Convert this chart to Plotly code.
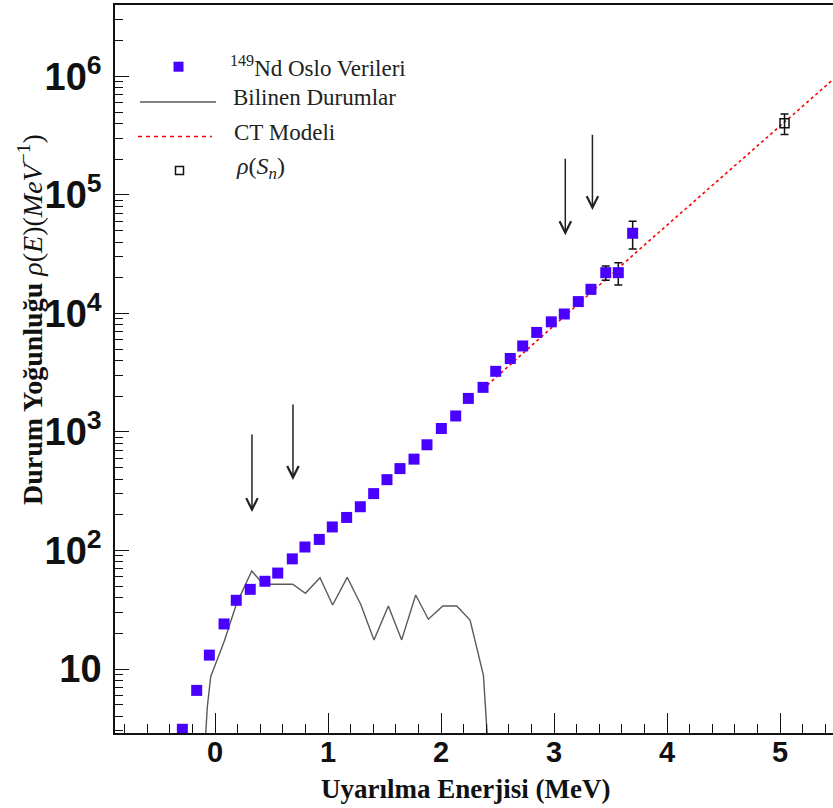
import numpy as np
import plotly.graph_objects as go

# ---------------- data ----------------
oslo_E = [-0.289, -0.162, -0.050, 0.080, 0.188, 0.312, 0.442, 0.555, 0.684, 0.796,
          0.923, 1.038, 1.165, 1.286, 1.404, 1.522, 1.637, 1.761, 1.876, 2.003,
          2.130, 2.242, 2.372, 2.484, 2.613, 2.723, 2.847, 2.976, 3.091, 3.215,
          3.327, 3.458, 3.569, 3.696]
oslo_rho = [3.1, 6.6, 13.1, 24, 38, 47, 55, 64.5, 85, 107,
            124, 158, 190, 234, 302, 396, 491, 590, 780, 1070,
            1365, 1920, 2380, 3250, 4170, 5320, 6920, 8500, 9900, 12600,
            16000, 22100, 22100, 47500]
oslo_err = [0, 0, 0, 0, 0, 0, 0, 0, 0, 0,
            0, 0, 0, 0, 0, 0, 0, 0, 0, 0,
            0, 0, 0, 0, 0, 0, 0, 400, 800, 1000,
            1300, 3000, 4700, 12500]

known_E = [-0.16, -0.068, -0.038, 0.080, 0.192, 0.325, 0.428, 0.555, 0.687, 0.800,
           0.929, 1.041, 1.170, 1.289, 1.407, 1.534, 1.652, 1.776, 1.888, 2.016,
           2.139, 2.257, 2.375, 2.480]
known_rho = [0.16, 4.8, 8.6, 17.0, 35.8, 67.1, 51.9, 51.9, 51.9, 43.5,
             58.9, 34.7, 59.4, 35.2, 17.6, 34.0, 17.6, 42.1, 26.3, 34.0,
             34.0, 25.9, 8.9, 0.25]

ct_E = [2.37, 3.76, 5.50]
ct_rho = [2300, 35000, 1.0e6]

sn_E = [5.04]
sn_rho = [4.03e5]
sn_err = [8.0e4]

arrow_E = [0.327, 0.690, 3.100, 3.340]
arrow_tip = [211, 394, 45700, 74600]
arrow_tail = [980, 1760, 208000, 331000]

x_tickvals = [0, 1, 2, 3, 4, 5]
x_ticktext = ["0", "1", "2", "3", "4", "5"]
y_tickvals = [10, 100, 1e3, 1e4, 1e5, 1e6]
y_ticktext = ["10", "10<sup>2</sup>", "10<sup>3</sup>", "10<sup>4</sup>",
              "10<sup>5</sup>", "10<sup>6</sup>"]

legend_labels = ["<sup>149</sup>Nd Oslo Verileri", "Bilinen Durumlar", "CT Modeli",
                 "<i>ρ</i>(<i>S<sub>n</sub></i>)"]

# ---------------- layout geometry ----------------
W, H = 833, 808
ML, MR, MT, MB = 115, 0, 5, 75
PW, PH = W - ML - MR, H - MT - MB


def px(x):
    return (x - ML) / PW


def py(y):
    return (H - MB - y) / PH


BLUE = "#4A00FF"
GRAY = "#5a5a5a"
RED = "#FF0000"
SERIF = "Liberation Serif"
SANS = "Liberation Sans"

fig = go.Figure()

fig.add_trace(go.Scatter(x=known_E, y=known_rho, mode="lines",
                         line=dict(color=GRAY, width=1.4), showlegend=False))
fig.add_trace(go.Scatter(x=ct_E, y=ct_rho, mode="lines",
                         line=dict(color=RED, width=1.6, dash="3px,3px"),
                         showlegend=False))
fig.add_trace(go.Scatter(x=oslo_E, y=oslo_rho, mode="markers",
                         marker=dict(symbol="square", size=11, color=BLUE),
                         error_y=dict(type="data", array=oslo_err, visible=True,
                                      color="#111", thickness=1.5, width=4),
                         showlegend=False))
fig.add_trace(go.Scatter(x=sn_E, y=sn_rho, mode="markers",
                         marker=dict(symbol="square-open", size=9, color="#111",
                                     line=dict(width=1.5)),
                         error_y=dict(type="data", array=sn_err, visible=True,
                                      color="#111", thickness=1.5, width=4),
                         showlegend=False))

annotations = []
for e, tip, tail in zip(arrow_E, arrow_tip, arrow_tail):
    annotations.append(dict(x=e, y=np.log10(tip), ax=e, ay=np.log10(tail),
                            xref="x", yref="y", axref="x", ayref="y",
                            text="", showarrow=True, arrowhead=5, arrowsize=1.5,
                            arrowwidth=1.5, arrowcolor="#222"))

# axis titles
annotations.append(dict(x=px(30), y=py(320), xref="paper", yref="paper",
                        text="<b>Durum Yoğunluğu</b> <i>ρ</i>(<i>E</i>)(<i>MeV</i><sup>−1</sup>)",
                        textangle=-90, showarrow=False, xanchor="center", yanchor="middle",
                        font=dict(family=SERIF, size=28, color="#111")))
annotations.append(dict(x=px(465), y=py(789), xref="paper", yref="paper",
                        text="<b>Uyarılma Enerjisi (MeV)</b>", showarrow=False,
                        xanchor="center", yanchor="middle",
                        font=dict(family=SERIF, size=27, color="#111")))

# legend (drawn manually to match the reference geometry)
leg_pos = [(228, 66), (231, 97), (232, 132), (234, 168)]
leg_sizes = [23, 23, 23, 24]
for lab, (lx, ly), fs in zip(legend_labels, leg_pos, leg_sizes):
    annotations.append(dict(x=px(lx), y=py(ly), xref="paper", yref="paper",
                            text=lab, showarrow=False, xanchor="left", yanchor="middle",
                            font=dict(family=SERIF, size=fs, color="#222")))

shapes = [
    dict(type="rect", xref="paper", yref="paper", x0=px(173.5), x1=px(183.5),
         y0=py(71.7), y1=py(61.7), fillcolor=BLUE, line=dict(width=0)),
    dict(type="line", xref="paper", yref="paper", x0=px(140), x1=px(216),
         y0=py(102), y1=py(102), line=dict(color=GRAY, width=1.4)),
    dict(type="line", xref="paper", yref="paper", x0=px(138), x1=px(212),
         y0=py(136.5), y1=py(136.5), line=dict(color=RED, width=1.6, dash="4px,4px")),
    dict(type="rect", xref="paper", yref="paper", x0=px(175.5), x1=px(183.5),
         y0=py(174.5), y1=py(166.5), fillcolor="rgba(0,0,0,0)",
         line=dict(color="#111", width=1.5)),
]

minor_y = [m * 10 ** d for d in range(0, 7) for m in range(2, 10)]

fig.update_layout(
    width=W, height=H,
    margin=dict(l=ML, r=MR, t=MT, b=MB),
    paper_bgcolor="white", plot_bgcolor="white",
    showlegend=False,
    annotations=annotations,
    shapes=shapes,
    xaxis=dict(range=[-0.885, 5.469], showline=True, linecolor="#111", linewidth=1.5,
               mirror=True, showgrid=False, zeroline=False,
               ticks="inside", ticklen=20, tickwidth=1.3, tickcolor="#111",
               tickmode="array", tickvals=x_tickvals, ticktext=x_ticktext,
               tickfont=dict(family=SANS, size=29, color="#111", weight="bold"),
               ticklabelstandoff=-8,
               minor=dict(tick0=0, dtick=0.2, ticks="inside", ticklen=9,
                          tickwidth=1.3, tickcolor="#111", showgrid=False)),
    yaxis=dict(type="log", range=[0.46, 6.603], showline=True, linecolor="#111",
               linewidth=1.5, mirror=False, showgrid=False, zeroline=False,
               ticks="inside", ticklen=14, tickwidth=1.3, tickcolor="#111",
               tickmode="array", tickvals=y_tickvals, ticktext=y_ticktext,
               tickfont=dict(family=SANS, size=38, color="#111", weight="bold"),
               ticklabelstandoff=4,
               minor=dict(tickmode="array", tickvals=minor_y, ticks="inside", ticklen=8,
                          tickwidth=1.2, tickcolor="#111", showgrid=False)),
)

fig.write_html("out.html", config={"displayModeBar": False},
               post_script="document.body.style.margin='0px';document.body.style.overflow='hidden';")
